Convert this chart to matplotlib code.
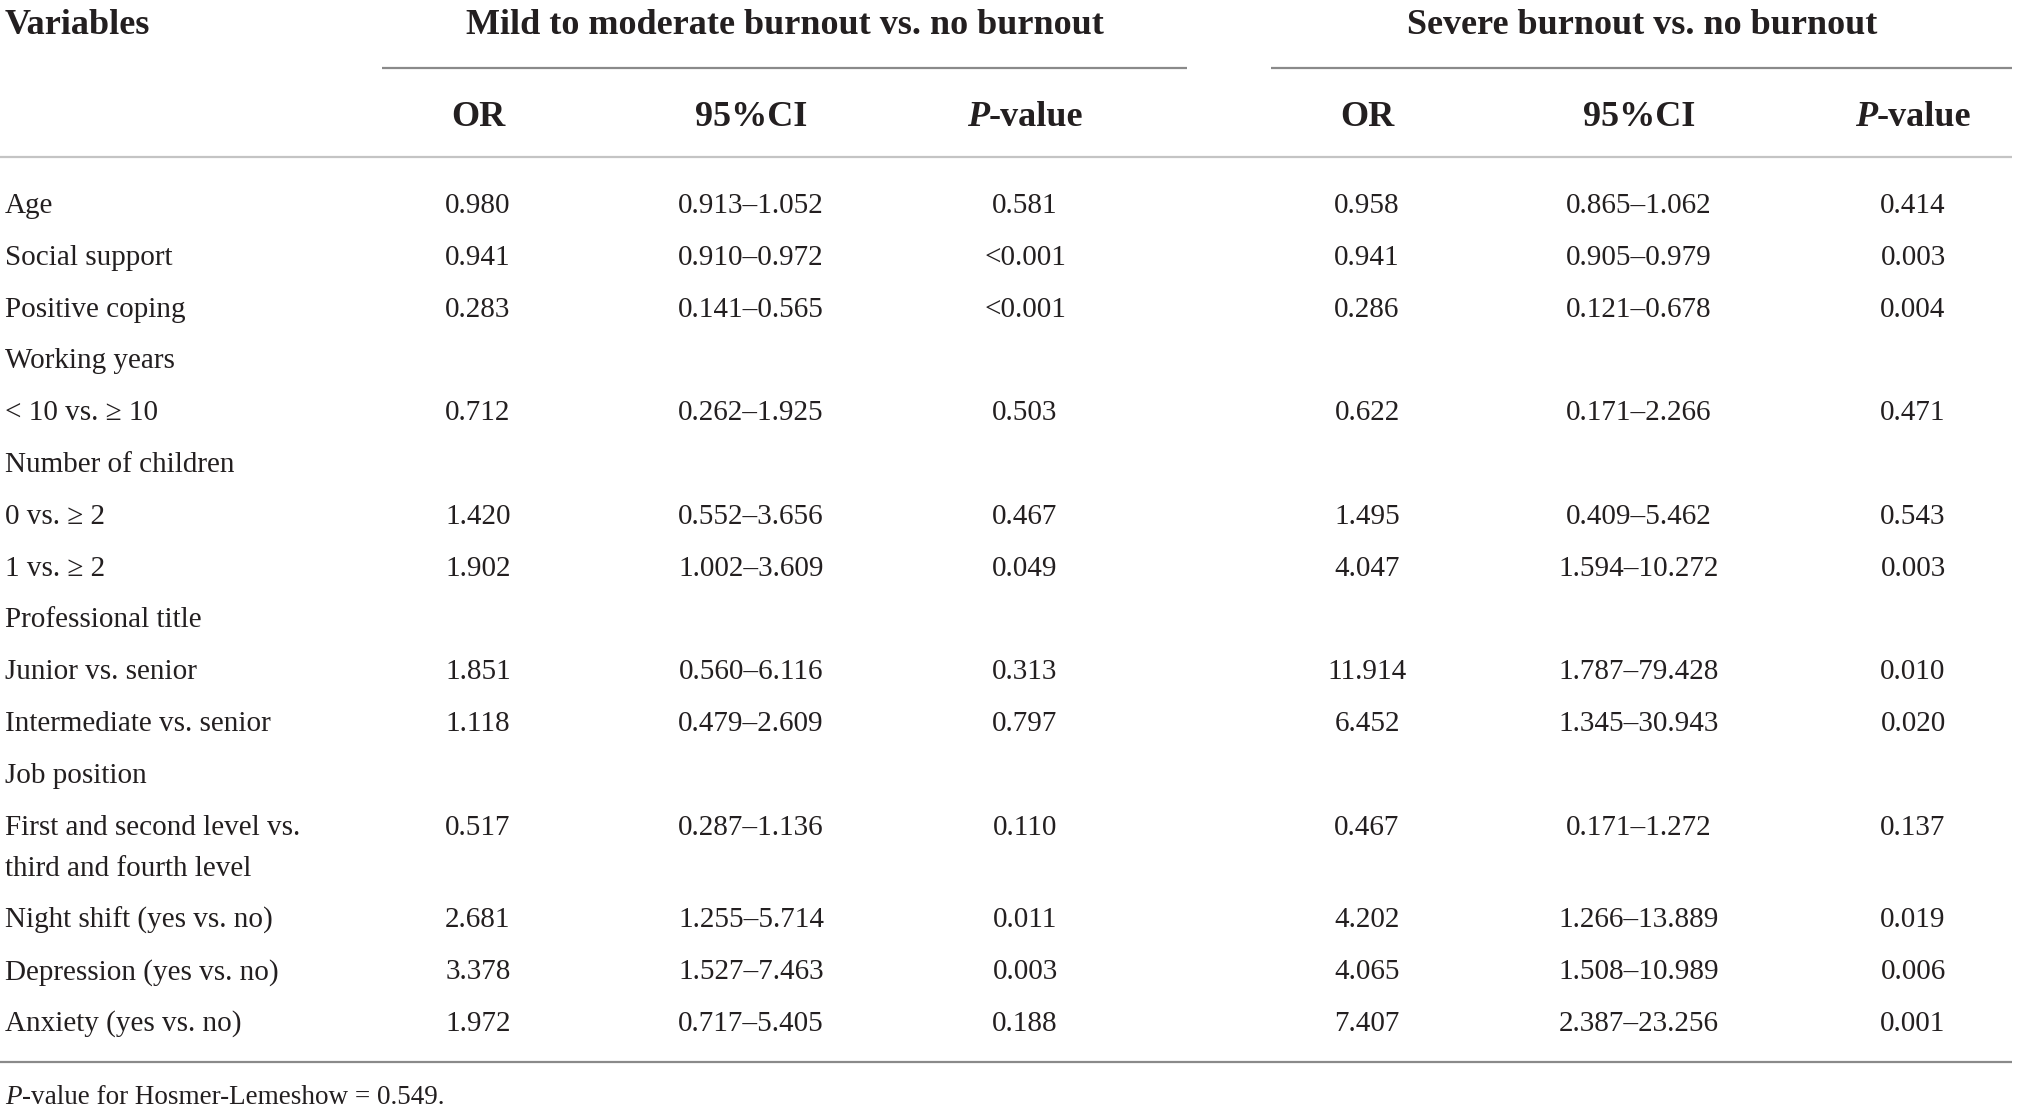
import matplotlib
matplotlib.use("Agg")
import matplotlib.pyplot as plt

# table contents
variables = ["Age", "Social support", "Positive coping", "Working years",
             "< 10 vs. \u2265 10", "Number of children", "0 vs. \u2265 2", "1 vs. \u2265 2",
             "Professional title", "Junior vs. senior", "Intermediate vs. senior",
             "Job position", "First and second level vs.\nthird and fourth level",
             "Night shift (yes vs. no)", "Depression (yes vs. no)", "Anxiety (yes vs. no)"]

or_mild = [0.980, 0.941, 0.283, None, 0.712, None, 1.420, 1.902, None, 1.851, 1.118,
           None, 0.517, 2.681, 3.378, 1.972]
ci_lo_mild = [0.913, 0.910, 0.141, None, 0.262, None, 0.552, 1.002, None, 0.560, 0.479,
              None, 0.287, 1.255, 1.527, 0.717]
ci_hi_mild = [1.052, 0.972, 0.565, None, 1.925, None, 3.656, 3.609, None, 6.116, 2.609,
              None, 1.136, 5.714, 7.463, 5.405]
p_mild = ["0.581", "<0.001", "<0.001", None, "0.503", None, "0.467", "0.049", None,
          "0.313", "0.797", None, "0.110", "0.011", "0.003", "0.188"]

or_severe = [0.958, 0.941, 0.286, None, 0.622, None, 1.495, 4.047, None, 11.914, 6.452,
             None, 0.467, 4.202, 4.065, 7.407]
ci_lo_severe = [0.865, 0.905, 0.121, None, 0.171, None, 0.409, 1.594, None, 1.787, 1.345,
                None, 0.171, 1.266, 1.508, 2.387]
ci_hi_severe = [1.062, 0.979, 0.678, None, 2.266, None, 5.462, 10.272, None, 79.428, 30.943,
                None, 1.272, 13.889, 10.989, 23.256]
p_severe = ["0.414", "0.003", "0.004", None, "0.471", None, "0.543", "0.003", None,
            "0.010", "0.020", None, "0.137", "0.019", "0.006", "0.001"]

group_titles = ["Mild to moderate burnout vs. no burnout", "Severe burnout vs. no burnout"]
footnote_value = "0.549"

W, H = 2019, 1109
FONT = "Liberation Serif"
TXT = "#231f20"
BODY = 21
HEAD = 26
DY = 4  # small downward nudge for text centres

fig = plt.figure(figsize=(W / 100, H / 100), dpi=100)
ax = fig.add_axes([0, 0, 1, 1])
ax.set_xlim(0, W)
ax.set_ylim(H, 0)
ax.axis("off")
renderer = fig.canvas.get_renderer()


def pieces(x, y, parts, size, ha="center"):
    # parts: list of (text, weight, style); drawn side by side
    objs = []
    widths = []
    for s, w, st in parts:
        t = ax.text(0, y + DY, s, fontsize=size, fontweight=w, fontstyle=st, family=FONT,
                    color=TXT, ha="left", va="center")
        bb = t.get_window_extent(renderer)
        objs.append(t)
        widths.append(bb.width)
    total = sum(widths)
    start = x - total / 2 if ha == "center" else x
    for t, wd in zip(objs, widths):
        t.set_x(start)
        start += wd


def txt(x, y, s, size=BODY, weight="normal", ha="center"):
    ax.text(x, y + DY, s, fontsize=size, fontweight=weight, family=FONT, color=TXT,
            ha=ha, va="center")


# headers
txt(5, 21, "Variables", HEAD, "bold", ha="left")
txt(785, 21, group_titles[0], HEAD, "bold")
txt(1642, 21, group_titles[1], HEAD, "bold")
ax.plot([382, 1187], [68, 68], color="#8a8a8a", lw=1.6, solid_capstyle="butt")
ax.plot([1271, 2012], [68, 68], color="#8a8a8a", lw=1.6, solid_capstyle="butt")

col_x = [[478, 751, 1025], [1367, 1639, 1913]]
for cx in col_x:
    txt(cx[0], 113, "OR", HEAD, "bold")
    txt(cx[1], 113, "95%CI", HEAD, "bold")
    pieces(cx[2], 113, [("P", "bold", "italic"), ("-value", "bold", "normal")], HEAD)
ax.plot([0, 2012], [157, 157], color="#c4c4c4", lw=1.6, solid_capstyle="butt")

# body rows
y = 202
pitch = 51.8
line_gap = 41
groups = [(or_mild, ci_lo_mild, ci_hi_mild, p_mild),
          (or_severe, ci_lo_severe, ci_hi_severe, p_severe)]
for i, name in enumerate(variables):
    lines = name.split("\n")
    for k, ln in enumerate(lines):
        txt(5, y + k * line_gap, ln, ha="left")
    for (ors, lo, hi, ps), cx in zip(groups, col_x):
        if ors[i] is None:
            continue
        txt(cx[0], y, f"{ors[i]:.3f}")
        txt(cx[1], y, f"{lo[i]:.3f}\u2013{hi[i]:.3f}")
        txt(cx[2], y, ps[i])
    y += pitch + (len(lines) - 1) * line_gap

ax.plot([0, 2012], [1062, 1062], color="#8a8a8a", lw=1.6, solid_capstyle="butt")
pieces(5, 1094, [("P", "normal", "italic"),
                 ("-value for Hosmer-Lemeshow = " + footnote_value + ".", "normal", "normal")],
       19.5, ha="left")

fig.savefig("out.png", dpi=100)
